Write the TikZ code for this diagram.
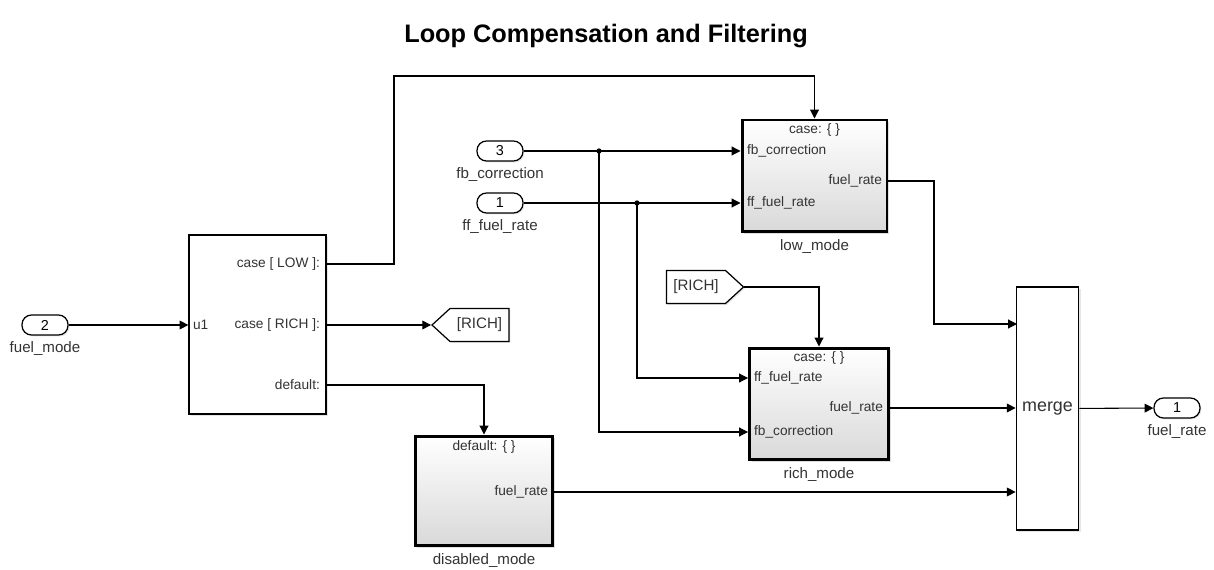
\documentclass[tikz,border=0pt]{standalone}
\usepackage{fontspec}
\setmainfont{Liberation Sans}
\usetikzlibrary{positioning, arrows.meta, shapes.symbols, shadows}

\begin{document}
\begin{tikzpicture}[
      x=0.02cm, y=-0.02cm,
      sig/.style={draw, line width=0.6pt, -{Triangle[length=5pt, width=5pt]}},
      plbl/.style={font=\fontsize{7.8}{9}\selectfont, text=black!80, inner sep=1pt},
      nm/.style={font=\fontsize{8.6}{10}\selectfont, text=black!80},
      sub/.style={draw, line width=1.7pt, top color=white, bottom color=black!15,
        drop shadow={opacity=0.25, shadow xshift=1.2pt, shadow yshift=-1.2pt}},
      blk/.style={draw, line width=0.7pt, fill=white,
        drop shadow={opacity=0.2, shadow xshift=1pt, shadow yshift=-1pt}},
      port/.style={draw, line width=0.7pt, rounded corners=5.4pt, fill=white,
        minimum width=0.92cm, minimum height=0.4cm, inner sep=0pt,
        font=\fontsize{8.2}{10}\selectfont, label distance=1.5pt,
        drop shadow={opacity=0.2, shadow xshift=0.8pt, shadow yshift=-0.8pt}},
      tag/.style={draw, line width=0.7pt, shape=signal, fill=white, signal pointer angle=85,
        minimum width=1.54cm, minimum height=0.66cm, inner sep=2pt,
        font=\fontsize{8.6}{10}\selectfont, text=black!80,
        drop shadow={opacity=0.2, shadow xshift=0.8pt, shadow yshift=-0.8pt}}]

    \useasboundingbox (0,0) rectangle (1214,570);

    \node[font=\fontsize{14.4}{17}\selectfont\bfseries] (title) at (606,36) {Loop Compensation and Filtering};

    \node[port, label={[nm]below:fuel\_mode}] (fmin) at (45,325) {2};
    \node[port, label={[nm]below:fb\_correction}] (fbin) at (500,151) {3};
    \node[port, label={[nm]below:ff\_fuel\_rate}] (ffin) at (500,203) {1};
    \node[port, label={[nm]below:fuel\_rate}] (fout) at (1177,408) {1};

    \node[blk, minimum width=2.74cm, minimum height=3.58cm] (swc) at (257.5,324.5) {};
    \node[plbl, anchor=west] (swin) at (191,325) {u1};
    \node[plbl, anchor=east] (swlow) at (322,264) {case [ LOW ]:};
    \node[plbl, anchor=east] (swrich) at (322,325) {case [ RICH ]:};
    \node[plbl, anchor=east] (swdef) at (322,385) {default:};

    \node[tag, signal to=west] (goto) at (479.5,325) {[RICH]};
    \node[tag, signal to=east] (from) at (696,287) {[RICH]};

    \node[sub, minimum width=2.9cm, minimum height=2.24cm, label={[nm]below:low\_mode}] (low) at (814.5,176) {};
    \node[plbl] (lowcase) at (814.5,130) {case: \{ \}};
    \node[plbl, anchor=west] (lowfb) at (745,151) {fb\_correction};
    \node[plbl, anchor=west] (lowff) at (745,203) {ff\_fuel\_rate};
    \node[plbl, anchor=east] (lowout) at (884,181) {fuel\_rate};

    \node[sub, minimum width=2.78cm, minimum height=2.24cm, label={[nm]below:rich\_mode}] (rich) at (819,404) {};
    \node[plbl] (richcase) at (819,358) {case: \{ \}};
    \node[plbl, anchor=west] (richff) at (752,378) {ff\_fuel\_rate};
    \node[plbl, anchor=west] (richfb) at (752,432) {fb\_correction};
    \node[plbl, anchor=east] (richout) at (885,408) {fuel\_rate};

    \node[sub, minimum width=2.76cm, minimum height=2.2cm, label={[nm]below:disabled\_mode}] (dis) at (484,491) {};
    \node[plbl] (discase) at (484,447) {default: \{ \}};
    \node[plbl, anchor=east] (disout) at (550,492) {fuel\_rate};

    \node[blk, minimum width=1.22cm, minimum height=4.86cm, font=\fontsize{10.2}{12}\selectfont, text=black!80] (merge) at (1047.5,408.5) {merge};
    \coordinate (min1) at (1017,324);
    \coordinate (outbend) at (934,324);
    \coordinate (lowbend) at (394,76);
    \coordinate (fbsplit) at (599,151);
    \coordinate (ffsplit) at (637,203);

    \draw[sig] (fmin) -- (fmin -| swc.west);
    \draw[sig] (swlow -| swc.east) -| (lowbend) -| (low.north);
    \draw[sig] (swrich -| swc.east) -- (goto.west);
    \draw[sig] (swdef -| swc.east) -| (dis.north);

    \draw[sig] (fbin) -- (lowfb -| low.west);
    \draw[sig] (ffin) -- (lowff -| low.west);
    \draw[sig] (fbsplit) |- (richfb -| rich.west);
    \draw[sig] (ffsplit) |- (richff -| rich.west);
    \fill (fbsplit) circle (1.5pt);
    \fill (ffsplit) circle (1.5pt);
    \draw[sig] (from.east) -| (rich.north);

    \draw[sig] (lowout -| low.east) -| (outbend) -- (min1);
    \draw[sig] (richout -| rich.east) -- (richout -| merge.west);
    \draw[sig] (disout -| dis.east) -- (disout -| merge.west);
    \draw[sig] (merge) -- (fout);
  \end{tikzpicture}
\end{document}
